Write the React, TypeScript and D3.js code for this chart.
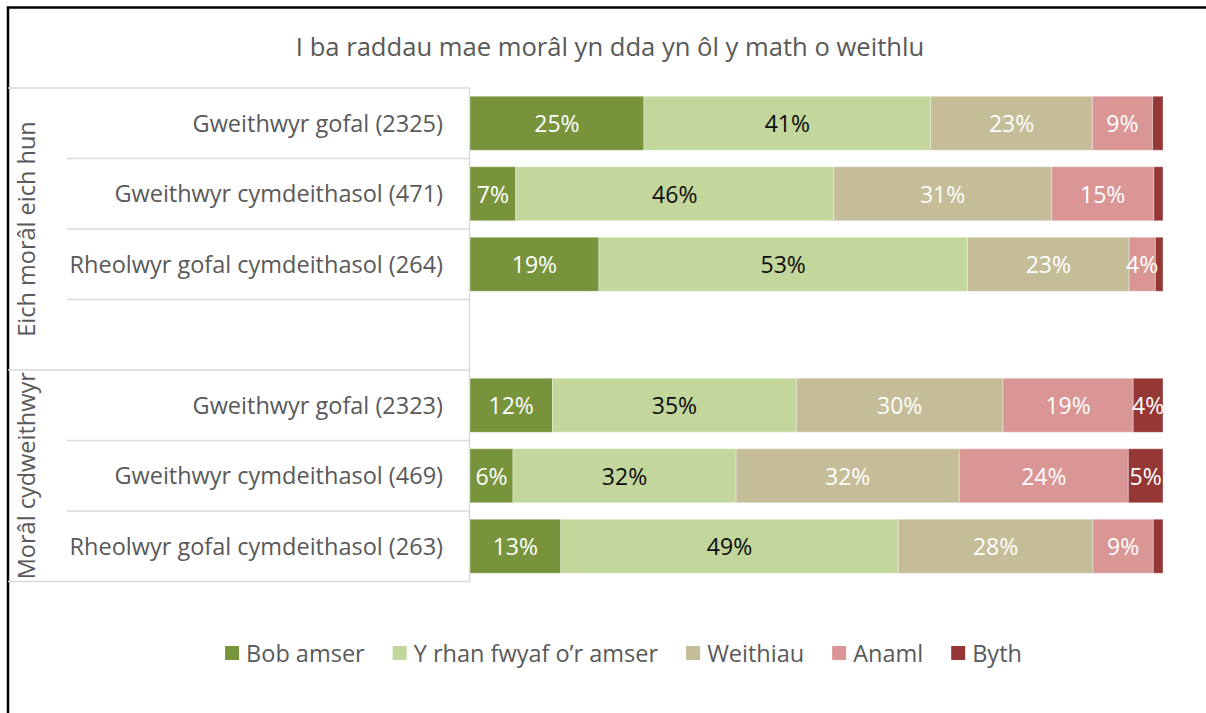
import React, { useEffect, useRef } from "react";
import * as d3 from "d3";

const title = "I ba raddau mae morâl yn dda yn ôl y math o weithlu";
const categories = [
  "Gweithwyr gofal (2325)",
  "Gweithwyr cymdeithasol (471)",
  "Rheolwyr gofal cymdeithasol (264)",
  "",
  "Gweithwyr gofal (2323)",
  "Gweithwyr cymdeithasol (469)",
  "Rheolwyr gofal cymdeithasol (263)",
];
const groupLabels = ["Eich morâl eich hun", "Morâl cydweithwyr"];
const groupSizes = [4, 3];

const seriesNames = ["Bob amser", "Y rhan fwyaf o’r amser", "Weithiau", "Anaml", "Byth"];
const bobAmser = [25.1, 6.6, 18.6, null, 11.9, 6.2, 13.1];
const yRhanFwyaf = [41.4, 45.9, 53.2, null, 35.2, 32.2, 48.7];
const weithiau = [23.3, 31.4, 23.3, null, 29.8, 32.2, 28.1];
const anaml = [8.7, 14.8, 3.8, null, 18.8, 24.4, 8.7];
const byth = [1.5, 1.3, 1.1, null, 4.3, 5.0, 1.4];
const seriesValues = [bobAmser, yRhanFwyaf, weithiau, anaml, byth];
const seriesColors = ["#77933C", "#C3D69B", "#C4BD97", "#D99694", "#953735"];
const labelColors = ["#FFFFFF", "#0D0D0D", "#FFFFFF", "#FFFFFF", "#FFFFFF"];

const W = 1206;
const H = 713;
const FONT = "'Open Sans', 'Noto Sans', sans-serif";

export default function App() {
  const ref = useRef<SVGSVGElement>(null);

  useEffect(() => {
    const svg = d3.select(ref.current);
    svg.selectAll("*").remove();

    const top = 88;
    const bottom = 581.5;
    const plotLeft = 470;
    const plotRight = 1163;
    const tableLeft = 8;
    const innerLeft = 67;
    const gridColor = "#D9D9D9";
    const fs = 23.5;

    const idx = categories.map((_, i) => i);
    const y = d3.scaleBand<number>().domain(idx).range([top, bottom]).paddingInner(0.234).paddingOuter(0.117);
    const x = d3.scaleLinear().domain([0, 100]).range([plotLeft, plotRight]);
    const step = y.step();

    svg.append("rect").attr("x", 0).attr("y", 0).attr("width", W).attr("height", H).attr("fill", "#fff");

    svg.append("rect").attr("x", 8).attr("y", 7.5).attr("width", W + 20).attr("height", H + 20)
      .attr("fill", "none").attr("stroke", "#000").attr("stroke-width", 2.5);

    svg.append("text").attr("x", 610).attr("y", 56).attr("text-anchor", "middle")
      .attr("font-family", FONT).attr("font-size", 25.6).attr("fill", "#595959").text(title);

    const g = svg.append("g");
    let acc = 0;
    const boundaries: number[] = [0];
    groupSizes.forEach((s) => { acc += s; boundaries.push(acc); });
    for (let k = 0; k <= categories.length; k++) {
      const yy = top + k * step;
      const full = boundaries.includes(k);
      g.append("line").attr("x1", full ? tableLeft : innerLeft).attr("x2", plotLeft)
        .attr("y1", yy).attr("y2", yy).attr("stroke", gridColor).attr("stroke-width", 1.5);
    }
    g.append("line").attr("x1", plotLeft - 0.5).attr("x2", plotLeft - 0.5).attr("y1", top).attr("y2", bottom)
      .attr("stroke", gridColor).attr("stroke-width", 1.5);

    categories.forEach((c, i) => {
      if (!c) return;
      svg.append("text").attr("x", 443).attr("y", (y(i) as number) + y.bandwidth() / 2 + 8.5)
        .attr("text-anchor", "end").attr("font-family", FONT).attr("font-size", fs)
        .attr("fill", "#595959").text(c);
    });

    groupLabels.forEach((lab, gi) => {
      const y0 = top + boundaries[gi] * step;
      const y1 = top + boundaries[gi + 1] * step;
      svg.append("text").attr("transform", `translate(35, ${(y0 + y1) / 2}) rotate(-90)`)
        .attr("text-anchor", "middle").attr("font-family", FONT).attr("font-size", fs)
        .attr("fill", "#595959").text(lab);
    });

    const bars = svg.append("g");
    const labels = svg.append("g");
    categories.forEach((_, i) => {
      let cum = 0;
      seriesValues.forEach((vals, si) => {
        const v = vals[i];
        if (v == null) return;
        const x0 = x(cum);
        const x1 = x(cum + v);
        bars.append("rect").attr("x", x0).attr("y", y(i) as number).attr("width", x1 - x0)
          .attr("height", y.bandwidth()).attr("fill", seriesColors[si])
          .attr("stroke", "#ffffff").attr("stroke-opacity", 0.35).attr("stroke-width", 1);
        if (v >= 3) {
          labels.append("text").attr("x", (x0 + x1) / 2).attr("y", (y(i) as number) + y.bandwidth() / 2 + 9)
            .attr("text-anchor", "middle").attr("font-family", FONT).attr("font-size", 23)
            .attr("fill", labelColors[si]).text(d3.format(".0f")(v) + "%");
        }
        cum += v;
      });
    });

    const legend = svg.append("g");
    const items: { g: any; w: number }[] = [];
    const sq = 14;
    seriesNames.forEach((name, si) => {
      const ig = legend.append("g");
      ig.append("rect").attr("x", 0).attr("y", -sq / 2).attr("width", sq).attr("height", sq).attr("fill", seriesColors[si]);
      const t = ig.append("text").attr("x", sq + 7).attr("y", 8.5).attr("font-family", FONT).attr("font-size", fs)
        .attr("fill", "#595959").text(name);
      const tw = (t.node() as SVGTextElement).getComputedTextLength();
      items.push({ g: ig, w: sq + 7 + tw });
    });
    const gap = 28;
    const total = d3.sum(items, (d) => d.w) + gap * (items.length - 1);
    let lx = 623.5 - total / 2;
    items.forEach((it) => {
      it.g.attr("transform", `translate(${lx}, 653)`);
      lx += it.w + gap;
    });
  }, []);

  return (
    <svg ref={ref} width={W} height={H}
      style={{ position: "fixed", left: 0, top: 0, display: "block" }} />
  );
}
